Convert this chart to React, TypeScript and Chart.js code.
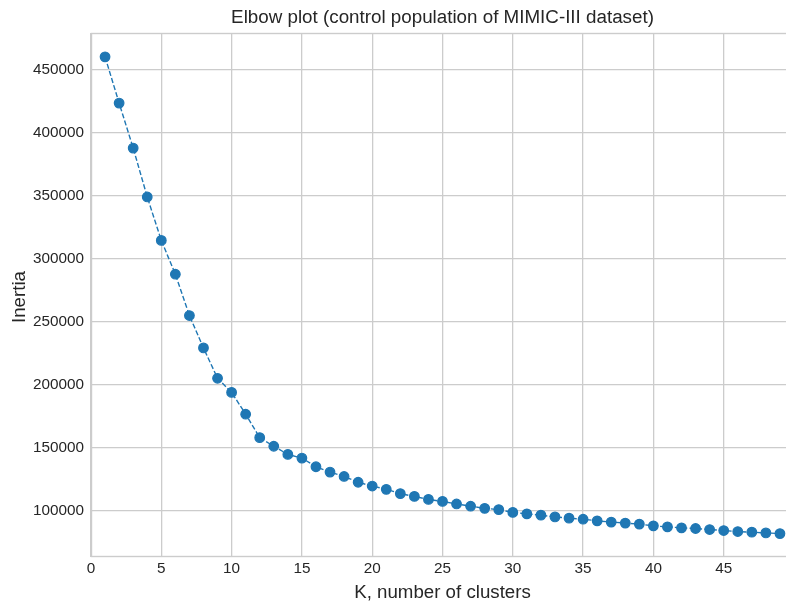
import React, { useEffect, useRef } from "react";
import { Chart, registerables } from "chart.js";

Chart.register(...registerables);

const chartTitle = "Elbow plot (control population of MIMIC-III dataset)";
const xAxisTitle = "K, number of clusters";
const yAxisTitle = "Inertia";

const kValues = [
  1, 2, 3, 4, 5, 6, 7, 8, 9, 10, 11, 12, 13, 14, 15, 16, 17, 18, 19, 20, 21, 22, 23, 24, 25,
  26, 27, 28, 29, 30, 31, 32, 33, 34, 35, 36, 37, 38, 39, 40, 41, 42, 43, 44, 45, 46, 47, 48, 49,
];
const inertia = [
  460000, 423300, 387600, 348800, 314300, 287500, 254700, 229000, 204900, 193700, 176400,
  157800, 151000, 144500, 141600, 134700, 130500, 127000, 122400, 119400, 116800, 113400,
  111200, 108800, 107200, 105200, 103400, 101700, 100700, 98500, 97300, 96300, 94900, 93900,
  93100, 91800, 90800, 90000, 89200, 87800, 87000, 86200, 85700, 84900, 84100, 83300, 82800,
  82200, 81700,
];
const xTickValues = [0, 5, 10, 15, 20, 25, 30, 35, 40, 45];
const yTickValues = [100000, 150000, 200000, 250000, 300000, 350000, 400000, 450000];

const FONT = "'Liberation Sans', Arial, sans-serif";
const TEXT = "#262626";
const GRID = "#cccccc";
const BLUE = "#1f77b4";

const decor = {
  id: "decor",
  beforeDatasetsDraw(chart: any) {
    const { ctx, chartArea: a } = chart;
    ctx.save();
    ctx.strokeStyle = GRID;
    ctx.lineWidth = 1.4;
    const l = Math.round(a.left) + 0.5;
    const t = Math.round(a.top) + 0.5;
    const r = Math.round(a.right) - 0.5;
    const b = Math.round(a.bottom) - 0.5;
    ctx.strokeRect(l, t, r - l, b - t);
    ctx.restore();
  },
  afterDraw(chart: any) {
    const { ctx, chartArea: a } = chart;
    const cx = (a.left + a.right) / 2;
    const cy = (a.top + a.bottom) / 2;
    ctx.save();
    ctx.fillStyle = TEXT;
    ctx.textAlign = "center";
    ctx.textBaseline = "alphabetic";
    ctx.font = `18.8px ${FONT}`;
    ctx.fillText(chartTitle, cx, 23.3);
    ctx.font = `18.7px ${FONT}`;
    ctx.fillText(xAxisTitle, cx, 597.5);
    ctx.translate(25, cy + 2);
    ctx.rotate(-Math.PI / 2);
    ctx.fillText(yAxisTitle, 0, 0);
    ctx.restore();
  },
};

export default function App() {
  const ref = useRef<HTMLCanvasElement | null>(null);
  useEffect(() => {
    if (!ref.current) return;
    const points = kValues.map((k, i) => ({ x: k, y: inertia[i] }));
    const chart = new Chart(ref.current, {
      type: "scatter",
      data: {
        datasets: [
          {
            data: points,
            showLine: true,
            borderColor: BLUE,
            backgroundColor: BLUE,
            borderWidth: 1.4,
            borderDash: [5.1, 2.3],
            pointRadius: 4.8,
            pointBorderWidth: 1.2,
            pointBackgroundColor: BLUE,
            pointBorderColor: BLUE,
          } as any,
        ],
      },
      options: {
        animation: false,
        responsive: false,
        devicePixelRatio: 1,
        layout: { padding: { top: 33, left: 0, right: 0, bottom: 0 } },
        plugins: {
          legend: { display: false },
          tooltip: { enabled: false },
          title: { display: false },
        },
        scales: {
          x: {
            type: "linear",
            min: 0,
            max: 50,
            border: { display: false },
            grid: { color: GRID, lineWidth: 1.3, drawTicks: false },
            ticks: {
              padding: 3,
              color: TEXT,
              font: { family: FONT, size: 15.3 },
              maxRotation: 0,
              autoSkip: false,
              callback: (v: any) => String(v),
            },
            afterBuildTicks: (s: any) => {
              s.ticks = xTickValues.map((v) => ({ value: v }));
            },
            afterFit: (s: any) => {
              s.height = 49;
              s.paddingLeft = 0;
              s.paddingRight = 0;
            },
          },
          y: {
            type: "linear",
            min: 63100,
            max: 478900,
            border: { display: false },
            grid: { color: GRID, lineWidth: 1.3, drawTicks: false },
            ticks: {
              padding: 7,
              color: TEXT,
              autoSkip: false,
              font: { family: FONT, size: 15.3 },
              callback: (v: any) => String(v),
            },
            afterBuildTicks: (s: any) => {
              s.ticks = yTickValues.map((v) => ({ value: v }));
            },
            afterFit: (s: any) => {
              s.width = 91;
              s.paddingTop = 0;
              s.paddingBottom = 0;
            },
          },
        },
      },
      plugins: [decor],
    });
    return () => chart.destroy();
  }, []);
  return (
    <div
      style={{
        position: "absolute",
        left: 0,
        top: 0,
        width: 786,
        height: 606,
        overflow: "hidden",
        background: "#ffffff",
      }}
    >
      <canvas ref={ref} width={800} height={606} style={{ display: "block", width: 800, height: 606 }} />
    </div>
  );
}
